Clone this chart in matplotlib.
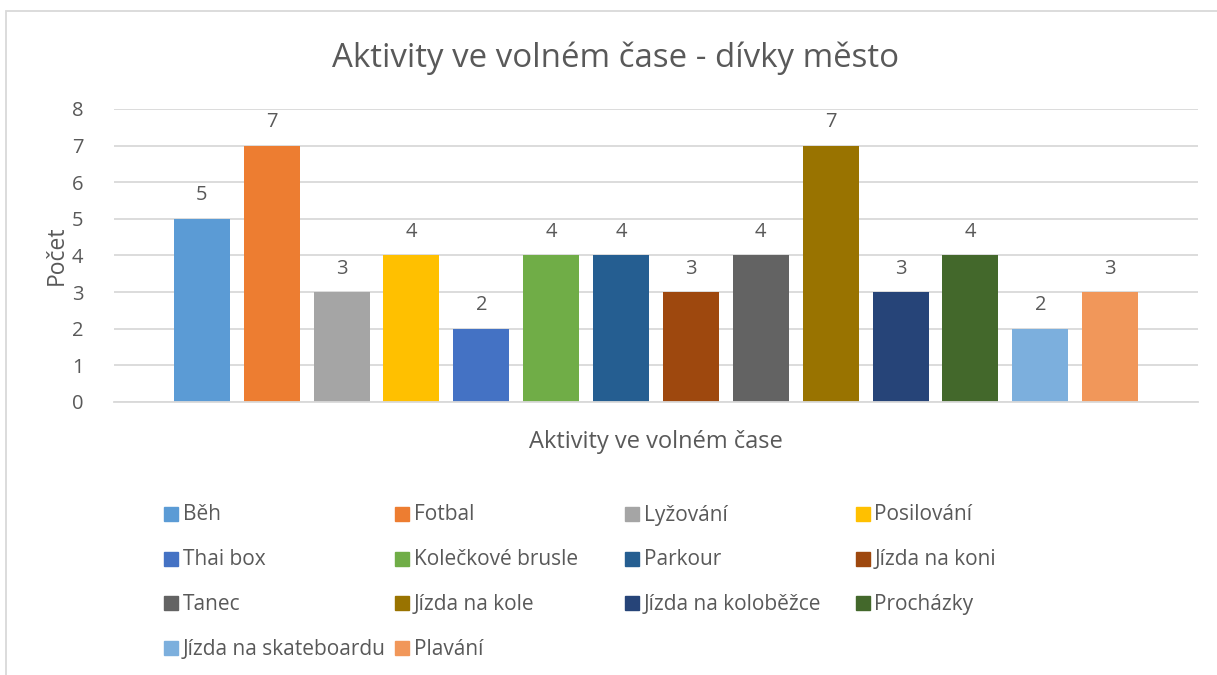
import matplotlib.pyplot as plt
from matplotlib.patches import Rectangle

# Data.
activities = ['Běh', 'Fotbal', 'Lyžování', 'Posilování', 'Thai box',
              'Kolečkové brusle', 'Parkour', 'Jízda na koni', 'Tanec',
              'Jízda na kole', 'Jízda na koloběžce', 'Procházky',
              'Jízda na skateboardu', 'Plavání']
counts = [5, 7, 3, 4, 2, 4, 4, 3, 4, 7, 3, 4, 2, 3]
colors = ['#5B9BD5', '#ED7D31', '#A5A5A5', '#FFC000', '#4472C4', '#70AD47',
          '#255E91', '#9E480E', '#636363', '#997300', '#264478', '#43682B',
          '#7CAFDD', '#F1975A']

plt.rcParams['font.family'] = ['Open Sans', 'DejaVu Sans']
txt = '#595959'
grid = '#D9D9D9'

W, H = 1217, 675
fig = plt.figure(figsize=(W / 100, H / 100), dpi=100)

# Chart border (only top and left visible in the reference crop).
fig.patches.append(Rectangle((6 / W, -0.5), 2, 1.5 - 11 / H, transform=fig.transFigure,
                             fill=False, edgecolor=grid, linewidth=1.3))

ax = fig.add_axes([114 / W, 1 - 402 / H, (1198 - 114) / W, (402 - 109) / H])

x = list(range(len(counts)))
ax.bar(x, counts, width=0.8, color=colors)
for xi, v in zip(x, counts):
    ax.annotate(str(v), (xi, v), xytext=(0, 17), textcoords='offset points',
                ha='center', va='center', fontsize=14.5, color=txt)

ax.set_xlim(-1.257, len(counts) - 1 + 1.257)
ax.set_ylim(0, 8)
ax.set_yticks(range(0, 9))
ax.set_xticks([])
ax.yaxis.grid(True, color=grid, linewidth=1.3)
ax.set_axisbelow(True)
for s in ['top', 'right', 'left']:
    ax.spines[s].set_visible(False)
ax.spines['bottom'].set_color(grid)
ax.spines['bottom'].set_linewidth(1.3)
ax.tick_params(axis='y', length=0, pad=22, labelsize=14.5, labelcolor=txt)

ax.set_ylabel('Počet', fontsize=16.5, color=txt, labelpad=2)
ax.set_xlabel('Aktivity ve volném čase', fontsize=17, color=txt, labelpad=20)
fig.text(616 / W, 1 - 58 / H, 'Aktivity ve volném čase - dívky město',
         ha='center', va='center', fontsize=23.8, color=txt)

# Legend laid out in equal-width columns like the original.
for i, (name, c) in enumerate(zip(activities, colors)):
    row, col = divmod(i, 4)
    lx = 164 + 230.5 * col
    ly = 514 + 44.7 * row
    fig.patches.append(Rectangle((lx / W, 1 - (ly + 7) / H), 14 / W, 14 / H,
                                 transform=fig.transFigure, color=c))
    fig.text((lx + 19) / W, 1 - (ly + 1) / H, name, ha='left', va='center',
             fontsize=15, color=txt)

fig.savefig('out.png', dpi=100)
